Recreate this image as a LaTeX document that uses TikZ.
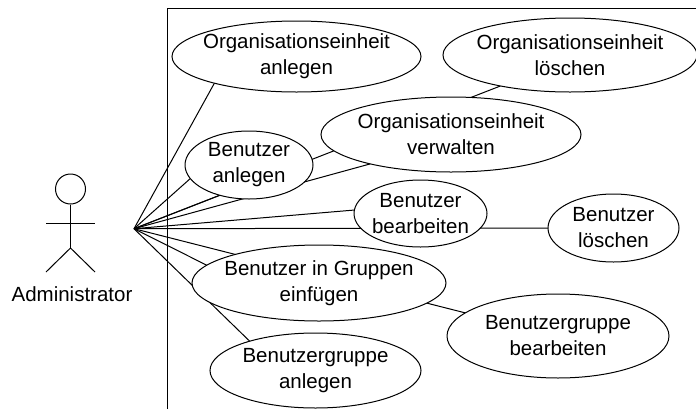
\documentclass[tikz,border=0pt]{standalone}
\usepackage{fontspec}
\setmainfont{Liberation Sans}
\usetikzlibrary{shapes.geometric,backgrounds}

\tikzset{
  usecase/.style={draw,ellipse,fill=white,align=center,inner xsep=-30pt,inner ysep=-12pt,outer sep=0pt},
  limb/.style={line width=1pt},
  link/.style={line width=1pt}
}

\begin{document}
\begin{tikzpicture}[x=1pt,y=-1pt,line width=1pt,font=\fontsize{20.5}{26}\selectfont]
  \useasboundingbox (0,0) rectangle (696,410);

  % system boundary
  \draw (167.5,409) -- (167.5,8.5) -- (696,8.5);

  % use cases
  \node[usecase,minimum width=249pt,minimum height=71pt] (orgAnlegen) at (296.5,56.5) {Organisationseinheit\\anlegen};
  \node[usecase,minimum width=254pt,minimum height=74pt] (orgLoeschen) at (570,55) {Organisationseinheit\\löschen};
  \node[usecase,minimum width=260pt,minimum height=75pt] (orgVerwalten) at (451,134.5) {Organisationseinheit\\verwalten};
  \node[usecase,minimum width=128pt,minimum height=68pt] (benAnlegen) at (249,165) {Benutzer\\anlegen};
  \node[usecase,minimum width=133pt,minimum height=67pt] (benBearbeiten) at (420.5,213.5) {Benutzer\\bearbeiten};
  \node[usecase,minimum width=131pt,minimum height=68pt] (benLoeschen) at (613.5,228) {Benutzer\\löschen};
  \node[usecase,minimum width=254pt,minimum height=76pt] (benGruppen) at (319,283) {Benutzer in Gruppen\\einfügen};
  \node[usecase,minimum width=222pt,minimum height=84pt] (grpBearbeiten) at (558,336) {Benutzergruppe\\bearbeiten};
  \node[usecase,minimum width=211pt,minimum height=75pt] (grpAnlegen) at (315.5,370.5) {Benutzergruppe\\anlegen};

  % actor
  \node[draw,circle,minimum size=30pt,inner sep=0pt] (head) at (70.5,189) {};
  \coordinate (hip) at (70.5,248);
  \coordinate (armL) at (46,223.7);
  \coordinate (armR) at (95,223.7);
  \coordinate (footL) at (46,272);
  \coordinate (footR) at (95,272);
  \draw[limb] (head.south) -- (hip);
  \draw[limb] (armL) -- (armR);
  \draw[limb] (footL) -- (hip) -- (footR);
  \node (actorLabel) at (72,294) {Administrator};

  % all links start at one point right of the actor
  \coordinate (hub) at (134,228.7);
  \begin{scope}[on background layer]
    \foreach \target/\ang in {orgAnlegen/198.7,orgLoeschen/204.6,orgVerwalten/200,benAnlegen/193.3,benAnlegen/226,benBearbeiten/177.6,benLoeschen/180,benGruppen/171.7,grpBearbeiten/166.4,grpAnlegen/156.7}
      \draw[link] (hub) -- (\target.\ang);
  \end{scope}
\end{tikzpicture}
\end{document}
